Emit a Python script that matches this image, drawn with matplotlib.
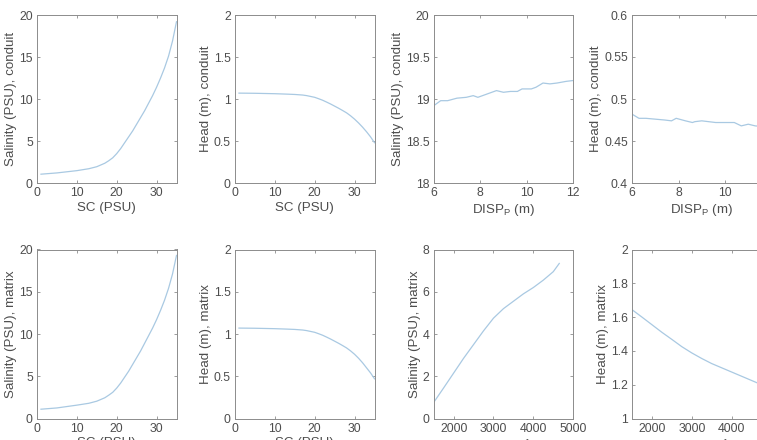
import numpy as np
import matplotlib
matplotlib.use("Agg")
import matplotlib.pyplot as plt

plt.rcParams['font.family'] = ['Liberation Sans', 'DejaVu Sans']
plt.rcParams['mathtext.fontset'] = 'custom'
plt.rcParams['mathtext.rm'] = 'Liberation Sans'
plt.rcParams['mathtext.it'] = 'Liberation Sans'

# ---- data ----
sc = [1, 5, 10, 13, 15, 17, 18, 19, 20, 21, 22, 23, 24, 25, 26, 27, 28, 29, 30,
      31, 32, 33, 34, 35]
sal_cond_sc = [1.05, 1.2, 1.47, 1.7, 1.94, 2.35, 2.65, 3.0, 3.5, 4.1, 4.8, 5.5, 6.2,
               7.0, 7.8, 8.6, 9.5, 10.4, 11.4, 12.5, 13.7, 15.1, 16.9, 19.2]
head_cond_sc = [1.07, 1.068, 1.063, 1.058, 1.054, 1.047, 1.04, 1.03, 1.02, 1.003, 0.985,
                0.963, 0.94, 0.915, 0.89, 0.863, 0.835, 0.80, 0.76, 0.715, 0.665, 0.61,
                0.55, 0.48]
sal_mat_sc = [1.1, 1.25, 1.58, 1.8, 2.05, 2.45, 2.76, 3.1, 3.6, 4.2, 4.9, 5.6, 6.4,
              7.2, 8.0, 8.9, 9.8, 10.7, 11.7, 12.8, 14.0, 15.4, 17.1, 19.3]
head_mat_sc = [1.07, 1.068, 1.063, 1.058, 1.054, 1.047, 1.04, 1.03, 1.02, 1.003, 0.985,
               0.963, 0.94, 0.915, 0.89, 0.863, 0.835, 0.80, 0.76, 0.713, 0.66, 0.60,
               0.54, 0.47]

disp = [6.0, 6.3, 6.6, 7.0, 7.4, 7.7, 7.9, 8.3, 8.6, 8.7, 9.0, 9.3, 9.6, 9.8, 10.2,
        10.4, 10.7, 11.0, 11.3, 11.7, 12.0]
sal_cond_disp = [18.92, 18.98, 18.98, 19.01, 19.02, 19.04, 19.02, 19.06, 19.09, 19.10,
                 19.08, 19.09, 19.09, 19.12, 19.12, 19.14, 19.19, 19.18, 19.19, 19.21, 19.22]
head_cond_disp = [0.482, 0.477, 0.477, 0.476, 0.475, 0.474, 0.477, 0.474, 0.472, 0.473,
                  0.474, 0.473, 0.472, 0.472, 0.472, 0.472, 0.468, 0.470, 0.468, 0.467, 0.466]

km = [1500, 1750, 2000, 2250, 2500, 2750, 3000, 3250, 3500, 3750, 4000, 4250, 4500, 4650]
sal_mat_km = [0.76, 1.45, 2.15, 2.85, 3.5, 4.15, 4.75, 5.2, 5.55, 5.9, 6.2, 6.55, 6.95, 7.34]
head_mat_km = [1.644, 1.60, 1.555, 1.51, 1.468, 1.425, 1.388, 1.355, 1.325, 1.30, 1.275,
               1.25, 1.225, 1.21]

LINE = '#a9c9e2'
TXT = '#4d4d4d'
AX = '#8c8c8c'

fig = plt.figure(figsize=(7.57, 4.40), dpi=100)
W, H = 757.0, 440.0
lefts = [37, 235, 433.7, 632]
aw = 139.5
rows = [(15, 183), (249.5, 418.5)]

def mkax(r, c):
    top, bot = rows[r]
    return fig.add_axes([lefts[c] / W, 1 - bot / H, aw / W, (bot - top) / H])

panels = [
    (0, 0, sc, sal_cond_sc, (0, 35), (0, 20), [0, 10, 20, 30], [0, 5, 10, 15, 20], 'SC (PSU)', 'Salinity (PSU), conduit'),
    (0, 1, sc, head_cond_sc, (0, 35), (0, 2), [0, 10, 20, 30], [0, 0.5, 1, 1.5, 2], 'SC (PSU)', 'Head (m), conduit'),
    (0, 2, disp, sal_cond_disp, (6, 12), (18, 20), [6, 8, 10, 12], [18, 18.5, 19, 19.5, 20], 'DISP$_\\mathregular{P}$ (m)', 'Salinity (PSU), conduit'),
    (0, 3, disp, head_cond_disp, (6, 12), (0.4, 0.6), [6, 8, 10, 12], [0.4, 0.45, 0.5, 0.55, 0.6], 'DISP$_\\mathregular{P}$ (m)', 'Head (m), conduit'),
    (1, 0, sc, sal_mat_sc, (0, 35), (0, 20), [0, 10, 20, 30], [0, 5, 10, 15, 20], 'SC (PSU)', 'Salinity (PSU), matrix'),
    (1, 1, sc, head_mat_sc, (0, 35), (0, 2), [0, 10, 20, 30], [0, 0.5, 1, 1.5, 2], 'SC (PSU)', 'Head (m), matrix'),
    (1, 2, km, sal_mat_km, (1500, 5000), (0, 8), [2000, 3000, 4000, 5000], [0, 2, 4, 6, 8], 'K$_\\mathregular{M}$ (m d$^{\\mathregular{-1}}$)', 'Salinity (PSU), matrix'),
    (1, 3, km, head_mat_km, (1500, 5000), (1, 2), [2000, 3000, 4000, 5000], [1, 1.2, 1.4, 1.6, 1.8, 2], 'K$_\\mathregular{M}$ (m d$^{\\mathregular{-1}}$)', 'Head (m), matrix'),
]

def fmt(v):
    return '%g' % v

for r, c, x, y, xl, yl, xt, yt, xlab, ylab in panels:
    ax = mkax(r, c)
    ax.plot(x, y, color=LINE, lw=0.9)
    ax.set_xlim(*xl)
    ax.set_ylim(*yl)
    ax.set_xticks(xt)
    ax.set_yticks(yt)
    ax.set_xticklabels([fmt(v) for v in xt])
    ax.set_yticklabels([fmt(v) for v in yt])
    ax.tick_params(direction='in', top=True, right=True, length=2.5, width=0.6,
                   colors=AX, labelcolor=TXT, labelsize=8.8, pad=3)
    for s in ax.spines.values():
        s.set_color(AX)
        s.set_linewidth(0.7)
    ax.set_xlabel(xlab, fontsize=9.6, color=TXT, labelpad=2)
    ax.set_ylabel(ylab, fontsize=9.6, color=TXT, labelpad=1.5)

fig.savefig('out.png', dpi=100)
